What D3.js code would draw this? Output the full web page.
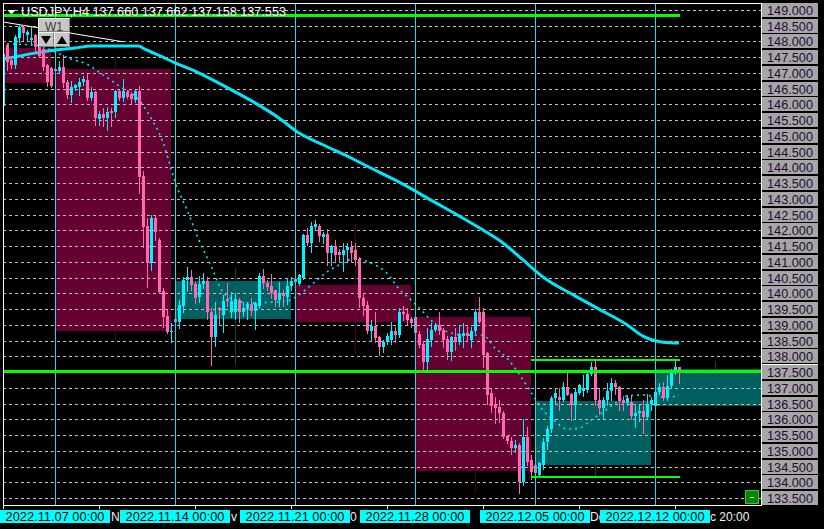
<!DOCTYPE html>
<html><head><meta charset="utf-8">
<script src="https://cdn.jsdelivr.net/npm/d3@7"></script>
<style>html,body{margin:0;padding:0;background:#000;overflow:hidden}svg{display:block}</style>
</head><body>
<svg id="c" width="824" height="529"></svg>
<script>
// ---------------- DATA ----------------
const symbol = "USDJPY,H4";
const lastQuote = ["137.660","137.662","137.158","137.553"];

// H4 candles, index 0 = 2022.11.02 20:00 ... index 169 = last bar
const opens = [145.95,147.89,147.41,147.25,148.11,148.46,148.21,148.05,148.2,147.82,
147.75,147.25,147.15,147.12,147.05,147.18,146.71,146.3,146.52,146.55,
146.72,146.78,146.2,146.4,145.55,145.7,145.57,145.8,145.76,146.42,
146.2,146.38,146.33,146.14,146.42,143.73,142.13,140.96,142.38,141.7,
140.07,139.28,138.77,139.18,139.09,139.6,140.42,140.52,140.3,139.88,
140.3,140.4,139.4,138.6,139.53,139.3,139.82,139.42,139.42,139.8,
139.42,139.5,139.65,139.45,139.6,140.55,140.32,140.22,140.1,139.8,
140.0,139.9,140.23,140.35,140.3,140.48,141.85,141.6,142.1,142.14,
141.8,141.9,141.28,141.5,141.3,141.22,141.38,141.46,141.38,141.08,
139.85,139.62,138.8,138.95,138.6,138.3,138.45,138.52,138.8,138.68,
139.4,139.35,139.18,139.25,138.71,138.38,137.82,138.52,138.83,138.98,
138.83,138.55,138.13,138.6,138.45,138.65,138.75,138.52,138.8,139.4,
139.4,138.1,136.83,136.5,136.38,136.2,135.46,135.3,135.1,135.18,
134.0,135.43,134.7,134.55,134.22,134.55,135.28,135.68,136.68,136.7,
136.62,137.02,136.8,136.45,136.85,136.9,136.93,137.43,137.65,136.62,
136.35,136.62,136.9,137.15,137.03,136.6,136.52,136.55,136.1,136.2,
136.25,136.06,136.5,136.42,136.86,137.02,136.68,137.05,137.5,137.66];
const highs = [147.92,147.95,147.5,148.2,148.56,148.52,148.38,148.45,148.25,147.9,
147.8,147.3,147.2,147.3,147.38,147.57,146.78,146.75,146.66,146.85,
146.9,146.97,146.55,146.42,145.8,145.9,145.93,145.9,146.45,146.47,
146.8,146.45,146.4,146.47,146.6,143.9,142.38,142.5,142.5,141.76,
140.17,139.47,139.05,139.22,139.79,140.52,140.84,140.74,140.36,140.55,
140.64,140.52,139.53,139.72,139.56,139.95,140.33,140.05,140.0,139.85,
139.72,139.72,139.85,139.72,140.65,140.78,140.42,140.6,140.12,140.35,
140.1,140.5,140.52,140.5,140.62,141.9,142.07,142.26,142.33,142.2,
141.95,142.05,141.55,141.7,141.4,141.6,141.6,141.65,141.6,141.15,
140.0,139.75,139.15,139.4,138.66,138.52,138.75,139.1,138.92,139.55,
139.6,139.55,139.25,139.3,138.8,138.45,138.9,139.05,139.05,139.4,
138.9,138.65,138.65,138.9,138.95,139.05,139.0,138.92,139.5,139.88,
139.55,138.13,137.0,136.7,136.6,136.25,135.5,135.45,135.35,135.25,
136.0,135.75,134.85,134.62,134.65,135.42,135.8,136.74,137.0,137.0,
137.2,137.48,136.83,137.0,137.12,137.4,137.55,137.82,137.86,136.95,
136.7,137.15,137.3,137.25,137.06,136.75,136.78,136.78,136.5,136.45,
136.6,136.8,136.7,137.0,137.15,137.2,137.4,137.6,137.85,137.662];
const lows = [145.66,147.1,147.16,147.16,147.98,148.05,148.0,147.9,147.7,147.5,
147.1,146.6,146.55,146.85,147.0,146.55,146.2,146.08,146.45,146.3,
146.62,146.13,146.13,145.35,145.35,145.3,145.2,145.3,145.6,146.13,
146.12,146.2,146.04,146.08,143.18,141.47,140.2,140.74,141.68,140.01,
138.93,138.74,138.45,138.95,138.9,139.42,140.07,140.1,139.69,139.72,
140.17,139.18,137.72,138.33,139.0,138.77,139.6,139.25,139.2,139.08,
139.28,139.2,139.3,138.87,139.55,140.17,140.1,139.85,139.6,139.6,
139.6,139.65,140.1,140.3,140.27,140.45,141.55,141.3,142.0,141.65,
141.6,140.9,140.9,141.0,141.0,140.7,141.0,141.0,140.9,139.57,
139.3,138.75,138.5,138.45,138.05,138.13,138.4,138.4,138.45,138.62,
139.15,138.98,138.92,138.7,138.3,137.56,137.56,138.33,138.8,138.7,
138.3,137.9,137.88,138.2,138.4,138.3,138.5,138.3,138.75,139.05,
137.65,136.5,136.22,135.87,135.9,135.4,135.25,134.9,134.95,133.65,
133.9,134.55,134.1,134.17,134.18,134.42,135.06,135.6,136.5,136.3,
136.58,136.77,135.97,136.05,136.8,136.75,136.88,137.4,136.45,136.18,
136.05,136.45,136.6,136.8,136.3,136.3,136.44,136.02,135.77,135.95,
135.55,136.0,136.3,136.35,136.8,136.6,136.6,137.0,137.45,137.158];
const closes = [147.6,147.35,147.25,148.14,148.46,148.27,148.3,148.12,147.82,147.55,
147.2,146.7,146.6,147.05,147.18,146.68,146.3,146.55,146.62,146.72,
146.8,146.2,146.4,145.57,145.7,145.57,145.77,145.72,146.42,146.2,
146.42,146.25,146.17,146.42,143.7,142.1,140.95,142.38,141.95,140.04,
139.25,138.77,138.82,139.09,139.63,140.42,140.52,140.26,139.85,140.3,
140.4,139.4,138.6,139.3,139.47,139.77,139.75,139.77,139.82,139.42,
139.52,139.65,139.45,139.7,140.55,140.32,140.2,140.0,139.8,140.0,
139.92,140.23,140.4,140.45,140.58,141.85,141.6,142.14,142.2,141.82,
141.9,141.28,141.5,141.22,141.22,141.38,141.46,141.28,141.06,139.85,
139.6,138.8,138.95,138.58,138.3,138.45,138.65,138.8,138.68,139.4,
139.34,139.15,139.05,138.75,138.36,137.82,138.55,138.83,139.0,138.8,
138.52,138.13,138.6,138.45,138.72,138.75,138.65,138.8,139.4,139.1,
138.03,136.77,136.42,136.35,136.2,135.43,135.3,135.1,135.18,134.0,
135.43,134.64,134.33,134.3,134.6,135.28,135.7,136.68,136.85,136.62,
137.02,136.78,136.45,136.86,137.08,137.0,137.43,137.65,136.62,136.35,
136.62,136.9,137.15,137.03,136.58,136.52,136.68,136.1,136.2,136.25,
136.06,136.5,136.6,136.86,137.02,136.68,137.05,137.5,137.66,137.553];

// Weekly (W1) overlay candles
const weekStart = [-17, 13, 43, 73, 103, 133, 163];
const weekOpen  = [147.79, 147.13, 139.18, 140.26, 139.25, 134.55, 136.42];
const weekHigh  = [148.60, 147.50, 140.80, 142.25, 139.88, 137.88, 137.85];
const weekLow   = [145.68, 138.50, 137.72, 138.05, 133.65, 134.17, 136.35];
const weekClose = [146.68, 138.80, 140.39, 139.09, 134.35, 136.58, 137.59];
const weekLabels = ["", "2022.11.07 00:00", "2022.11.14 00:00", "2022.11.21 00:00",
                    "2022.11.28 00:00", "2022.12.05 00:00", "2022.12.12 00:00"];

// Slow moving average (thick) read at bar indices
const maSlowIdx = [0, 8, 13, 18, 22, 34, 35, 40, 43, 48, 53, 58, 63, 69, 74, 80, 87, 94, 100, 107, 114, 120, 125, 130, 135, 143, 149, 156, 160, 165, 169];
const maSlowVal = [147.44,147.63,147.73,147.79,147.86,147.86,147.79,147.5,147.32,147.06,146.74,146.4,146.05,145.57,145.09,144.72,144.3,143.85,143.47,142.96,142.46,142.01,141.6,141.06,140.52,139.92,139.5,139.0,138.64,138.45,138.42];
// Fast moving average (dotted)
const maFastIdx = [1, 8, 13, 17, 21, 25, 29, 34, 37, 40, 43, 46, 49, 52, 55, 58, 62, 67, 71, 74, 77, 81, 85, 88, 92, 96, 99, 102, 105, 108, 112, 116, 120, 123, 126, 129, 132, 135, 138, 141, 144, 147, 150, 153, 156, 160, 164, 167, 169];
const maFastVal = [147.92,147.89,147.67,147.44,147.28,146.94,146.59,146.14,145.57,144.8,143.54,142.65,141.69,140.87,140.04,139.79,139.69,139.72,139.76,139.95,140.26,140.68,140.96,141.12,140.96,140.64,140.14,139.79,139.41,139.02,138.74,138.67,138.67,138.26,137.94,137.44,136.86,136.29,135.94,135.69,135.72,135.97,136.23,136.51,136.74,136.77,136.71,136.71,136.77];

// Trend line (white)
const trendIdx = [0, 30];
const trendVal = [148.62, 147.99];

// Horizontal levels (green): price, from bar, to bar (null = right edge)
const levelPrice = [148.85, 137.52, 137.88, 134.17];
const levelFrom  = [0, 0, 132, 132];
const levelTo    = [169.3, null, 169.3, 169.3];
const levelWidth = [3, 3, 2, 2];

// Axis ticks
const priceTicks = [149.0,148.5,148.0,147.5,147.0,146.5,146.0,145.5,145.0,144.5,144.0,143.5,143.0,142.5,142.0,141.5,141.0,140.5,140.0,139.5,139.0,138.5,138.0,137.5,137.0,136.5,136.0,135.5,135.0,134.5,134.0,133.5];
const timeTickIdx = [0, 24, 48, 72, 96, 120, 144, 168];
// the parts of the time-axis labels that are not hidden behind the cyan date boxes
const timeTickVisible = ["", "No", "v 2", "0", "", "", "De", "c 20:00"];
const timeTickVisibleOffset = [0, 9, 33, 56, 0, 0, 8, 32];

// ---------------- DRAW ----------------
const W = 824, H = 529;
const L = 3, R = 761, T = 3, B = 505;
const svg = d3.select("#c");
const FONT = "'Liberation Sans', Arial, sans-serif";
const BULL = "#00f4ff", BEAR = "#ff69b4", CYAN = "#00e8f8";

const x = d3.scaleLinear().domain([0, 169]).range([3, 679]);
const y = d3.scaleLinear().domain([133.5, 149]).range([498, 10]);

svg.append("rect").attr("width", W).attr("height", H).attr("fill", "#000");
svg.append("defs").append("clipPath").attr("id", "plot")
  .append("rect").attr("x", L).attr("y", T).attr("width", R - L).attr("height", B - T);
const g = svg.append("g").attr("clip-path", "url(#plot)").attr("shape-rendering", "crispEdges");

// weekly boxes
const weeks = weekStart.map((s, k) => ({s, o: weekOpen[k], h: weekHigh[k], l: weekLow[k], c: weekClose[k]}));
weeks.forEach(w => {
  const up = w.c >= w.o;
  const xc = Math.round(x(w.s + 15)) + 0.5;
  g.append("line").attr("x1", xc).attr("x2", xc).attr("y1", y(w.h)).attr("y2", y(w.l))
    .attr("stroke", up ? "#004c4c" : "#4a0020").attr("stroke-width", 1);
  const x0 = x(w.s), x1 = x(w.s + 29);
  g.append("rect").attr("x", x0).attr("width", x1 - x0)
    .attr("y", Math.round(y(Math.max(w.o, w.c))))
    .attr("height", Math.round(Math.abs(y(w.o) - y(w.c))))
    .attr("fill", up ? "#005f5f" : "#660033");
});

// horizontal dashed grid
g.selectAll("line.grid").data(priceTicks).enter().append("line")
  .attr("x1", L).attr("x2", R)
  .attr("y1", d => Math.round(y(d)) + 0.5).attr("y2", d => Math.round(y(d)) + 0.5)
  .attr("stroke", "#c0c0c0").attr("stroke-width", 1).attr("stroke-dasharray", "3,3");

// moving averages
const lineGen = d3.line().x(d => x(d[0])).y(d => y(d[1])).curve(d3.curveMonotoneX);
g.append("path").datum(maFastIdx.map((v, k) => [v, maFastVal[k]]))
  .attr("d", lineGen).attr("fill", "none").attr("stroke", CYAN)
  .attr("stroke-width", 1.6).attr("stroke-dasharray", "2,4").attr("shape-rendering", "auto");
g.append("path").datum(maSlowIdx.map((v, k) => [v, maSlowVal[k]]))
  .attr("d", lineGen).attr("fill", "none").attr("stroke", CYAN)
  .attr("stroke-width", 3).attr("shape-rendering", "auto");

// trend line
g.append("line").attr("x1", x(trendIdx[0])).attr("y1", y(trendVal[0]))
  .attr("x2", x(trendIdx[1])).attr("y2", y(trendVal[1]))
  .attr("stroke", "#ffffff").attr("stroke-width", 1).attr("shape-rendering", "auto");

// candles
const bars = opens.map((o, i) => ({i, o, h: highs[i], l: lows[i], c: closes[i]}));
const cg = g.append("g");
bars.forEach(b => {
  const xc = Math.round(x(b.i));
  const col = b.c >= b.o ? BULL : BEAR;
  cg.append("line").attr("x1", xc + 0.5).attr("x2", xc + 0.5)
    .attr("y1", Math.round(y(b.h))).attr("y2", Math.round(y(b.l)) + 1)
    .attr("stroke", col).attr("stroke-width", 1);
  const top = Math.round(y(Math.max(b.o, b.c)));
  const bot = Math.round(y(Math.min(b.o, b.c)));
  cg.append("rect").attr("x", xc - 1).attr("width", 3)
    .attr("y", top).attr("height", Math.max(1, bot - top)).attr("fill", col);
});

// week separators
g.selectAll("line.sep").data(weekStart.slice(1)).enter().append("line")
  .attr("x1", d => Math.round(x(d)) + 0.5).attr("x2", d => Math.round(x(d)) + 0.5)
  .attr("y1", T).attr("y2", B).attr("stroke", "#22d8f0").attr("stroke-width", 1);

// green levels
levelPrice.forEach((p, k) => {
  const yy = Math.round(y(p));
  g.append("line").attr("x1", x(levelFrom[k]))
    .attr("x2", levelTo[k] === null ? R : x(levelTo[k]))
    .attr("y1", yy + (levelWidth[k] % 2 ? 0.5 : 0)).attr("y2", yy + (levelWidth[k] % 2 ? 0.5 : 0))
    .attr("stroke", "#00ff00").attr("stroke-width", levelWidth[k]);
});

// border
svg.append("rect").attr("x", L + 0.5).attr("y", T + 0.5).attr("width", R - L).attr("height", B - T)
  .attr("fill", "none").attr("stroke", "#fff").attr("stroke-width", 1).attr("shape-rendering", "crispEdges");

// right price axis
const ax = svg.append("g");
priceTicks.forEach(p => {
  const yy = Math.round(y(p));
  ax.append("rect").attr("x", 762).attr("y", yy - 7).attr("width", 56).attr("height", 14)
    .attr("fill", "#a6a6a6").attr("shape-rendering", "crispEdges");
  ax.append("text").attr("x", 767).attr("y", yy + 4.5).text(p.toFixed(3))
    .attr("font-family", FONT).attr("font-size", 12.5).attr("fill", "#2a0838")
    .attr("textLength", 46).attr("lengthAdjust", "spacingAndGlyphs");
});
ax.append("line").attr("x1", 762).attr("x2", 818).attr("y1", 364.5).attr("y2", 364.5)
  .attr("stroke", "#fff").attr("stroke-width", 1);

// bottom time axis
const bx = svg.append("g");
timeTickIdx.forEach((ti, k) => {
  const xx = Math.round(x(ti)) + 0.5;
  bx.append("line").attr("x1", xx).attr("x2", xx).attr("y1", B).attr("y2", B + 4)
    .attr("stroke", "#fff").attr("shape-rendering", "crispEdges");
  if (timeTickVisible[k]) {
    bx.append("text").attr("x", xx + 2.5 + timeTickVisibleOffset[k]).attr("y", 521).text(timeTickVisible[k])
      .attr("font-family", FONT).attr("font-size", 12).attr("fill", "#f4f0e8");
  }
});
weekStart.forEach((s, k) => {
  if (!weekLabels[k]) return;
  const cx = Math.round(x(s));
  bx.append("rect").attr("x", cx - 55).attr("y", 510).attr("width", 110).attr("height", 13)
    .attr("fill", "#00ffff").attr("shape-rendering", "crispEdges");
  bx.append("text").attr("x", cx).attr("y", 521).attr("text-anchor", "middle").text(weekLabels[k])
    .attr("font-family", FONT).attr("font-size", 12.5).attr("fill", "#000")
    .attr("textLength", 99).attr("lengthAdjust", "spacingAndGlyphs");
});

// title
svg.append("path").attr("d", "M7.5,10 L15.5,10 L11.5,14.5 Z").attr("fill", "#fff");
svg.append("text").attr("x", 21).attr("y", 16)
  .text(symbol + " " + lastQuote.join(" "))
  .attr("font-family", FONT).attr("font-size", 12).attr("fill", "#fff")
  .attr("textLength", 265).attr("lengthAdjust", "spacingAndGlyphs");

// W1 button group
const btn = svg.append("g").attr("shape-rendering", "crispEdges");
function button(x0, y0, w, h) {
  btn.append("rect").attr("x", x0).attr("y", y0).attr("width", w).attr("height", h).attr("fill", "#c6c6c6");
  btn.append("path").attr("d", `M${x0 + 0.5},${y0 + h - 0.5} V${y0 + 0.5} H${x0 + w - 0.5}`)
    .attr("fill", "none").attr("stroke", "#f0f0f0");
  btn.append("path").attr("d", `M${x0 + 0.5},${y0 + h - 0.5} H${x0 + w - 0.5} V${y0 + 0.5}`)
    .attr("fill", "none").attr("stroke", "#808080");
}
button(38, 18, 32, 14);
button(38, 32, 16, 15);
button(54, 32, 16, 15);
svg.append("text").attr("x", 54).attr("y", 30.5).attr("text-anchor", "middle").text("W1")
  .attr("font-family", FONT).attr("font-size", 12.5).attr("fill", "#3c3c3c")
  .attr("textLength", 18).attr("lengthAdjust", "spacingAndGlyphs");
svg.append("path").attr("d", "M41,36 L51,36 L46,44 Z").attr("fill", "#000");
svg.append("path").attr("d", "M57,44 L67,44 L62,36 Z").attr("fill", "#000");

// small green button bottom-right
svg.append("rect").attr("x", 745.5).attr("y", 490.5).attr("width", 13).attr("height", 13)
  .attr("fill", "#008a00").attr("stroke", "#40c040").attr("shape-rendering", "crispEdges");
svg.append("line").attr("x1", 750).attr("x2", 754).attr("y1", 497.5).attr("y2", 497.5)
  .attr("stroke", "#fff").attr("shape-rendering", "crispEdges");
</script>
</body></html>
